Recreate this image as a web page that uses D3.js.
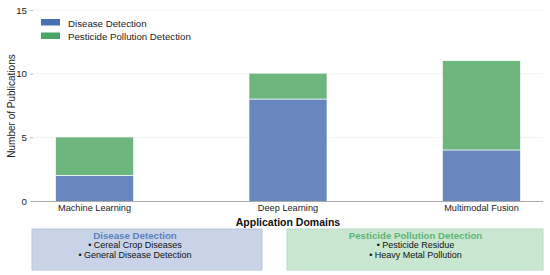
<!DOCTYPE html>
<html><head><meta charset="utf-8">
<script src="https://cdn.jsdelivr.net/npm/d3@7"></script>
<style>body{margin:0;background:#fff}svg{display:block;font-family:"Liberation Sans",Arial,sans-serif}</style>
</head><body><svg id="c" width="550" height="275"></svg>
<script>
const categories = ["Machine Learning", "Deep Learning", "Multimodal Fusion"];
const diseaseValues = [2, 8, 4];
const pesticideValues = [3, 2, 7];
const seriesNames = ["Disease Detection", "Pesticide Pollution Detection"];
const yTicks = [0, 5, 10, 15];
const diseaseItems = ["• Cereal Crop Diseases", "• General Disease Detection"];
const pesticideItems = ["• Pesticide Residue", "• Heavy Metal Pollution"];

const svg = d3.select("#c");
const m = {l: 33, r: 543, t: 10, b: 201};
const x = d3.scaleBand().domain(categories).range([m.l, m.r]).paddingInner(0.6).paddingOuter(0.118);
const y = d3.scaleLinear().domain([0, 15]).range([m.b, m.t]);
const fx = d3.scaleLinear().domain([0, 1]).range([m.l, m.r]);

// grid
svg.append("g").selectAll("line").data(yTicks.filter(d => d > 0)).join("line")
  .attr("x1", m.l).attr("x2", m.r).attr("y1", d => y(d)).attr("y2", d => y(d))
  .attr("stroke", "#f0f0f0").attr("stroke-width", 0.8);

const barBlue = "#6887bf", barGreen = "#6db67e";
const stackData = categories.map((c, i) => ({c, d: diseaseValues[i], p: pesticideValues[i]}));
const bars = svg.append("g");
bars.selectAll(".d").data(stackData).join("rect")
  .attr("x", d => x(d.c)).attr("width", x.bandwidth())
  .attr("y", d => y(d.d)).attr("height", d => y(0) - y(d.d)).attr("fill", barBlue);
bars.selectAll(".p").data(stackData).join("rect")
  .attr("x", d => x(d.c)).attr("width", x.bandwidth())
  .attr("y", d => y(d.d + d.p)).attr("height", d => y(d.d) - y(d.d + d.p)).attr("fill", barGreen);
bars.selectAll(".sep").data(stackData).join("line")
  .attr("x1", d => x(d.c)).attr("x2", d => x(d.c) + x.bandwidth())
  .attr("y1", d => y(d.d)).attr("y2", d => y(d.d)).attr("stroke", "#fff").attr("stroke-width", 0.8);

// y axis
const ya = svg.append("g").attr("transform", `translate(${m.l},0)`)
  .call(d3.axisLeft(y).tickValues(yTicks).tickSize(3).tickPadding(3));
ya.select(".domain").remove();
ya.selectAll(".tick line").attr("stroke", "#bbb");
ya.selectAll("text").attr("font-size", 9.7).attr("fill", "#222").attr("font-family", "Liberation Sans, Arial, sans-serif");

// x axis
const xa = svg.append("g").attr("transform", `translate(0,${m.b})`)
  .call(d3.axisBottom(x).tickSize(0).tickPadding(3.5));
xa.select(".domain").attr("stroke", "#aaa").attr("stroke-width", 1).attr("d", `M${m.l},0.5H${m.r}`);
xa.selectAll("text").attr("font-size", 9.2).attr("fill", "#222").attr("font-family", "Liberation Sans, Arial, sans-serif");

svg.append("text").attr("x", (m.l + m.r) / 2).attr("y", 226).attr("text-anchor", "middle")
  .attr("font-size", 10.5).attr("font-weight", "bold").attr("fill", "#111").text("Application Domains");
svg.append("text").attr("transform", `translate(14.5,106) rotate(-90)`).attr("text-anchor", "middle")
  .attr("font-size", 10).attr("fill", "#222").text("Number of Publications");

// legend
const legColors = ["#4a70b4", "#4ba565"];
const leg = svg.append("g");
seriesNames.forEach((s, i) => {
  leg.append("rect").attr("x", 41).attr("y", 19 + i * 13.5).attr("width", 19).attr("height", 6.5).attr("fill", legColors[i]);
  leg.append("text").attr("x", 68).attr("y", 26.5 + i * 13).attr("font-size", 9.7).attr("fill", "#222").text(s);
});

// boxes
const boxes = [
  {x0: 32, x1: 262, tx: fx(0.2), fill: "#c8d3e7", stroke: "#b7c4de", title: seriesNames[0], tc: "#5b7fc0", items: diseaseItems},
  {x0: 287, x1: 543, tx: fx(0.75), fill: "#c9e6d0", stroke: "#b8dcc1", title: seriesNames[1], tc: "#5db575", items: pesticideItems}
];
boxes.forEach(b => {
  svg.append("rect").attr("x", b.x0).attr("y", 229).attr("width", b.x1 - b.x0).attr("height", 41)
    .attr("fill", b.fill).attr("stroke", b.stroke).attr("stroke-width", 1);
  const cx = b.tx;
  svg.append("text").attr("x", cx).attr("y", 239).attr("text-anchor", "middle").attr("font-size", 9.7)
    .attr("font-weight", "bold").attr("fill", b.tc).text(b.title);
  b.items.forEach((t, i) => svg.append("text").attr("x", cx).attr("y", 248.2 + i * 9.4).attr("text-anchor", "middle")
    .attr("font-size", 9).attr("fill", "#111").text(t));
});
</script></body></html>
